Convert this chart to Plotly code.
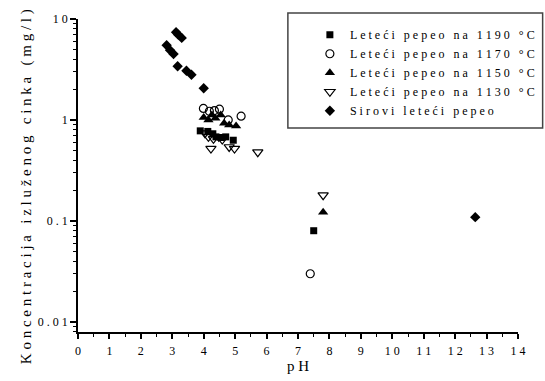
import plotly.graph_objects as go

# ---- data ----
ph_1190 = [3.89, 4.13, 4.29, 4.39, 4.56, 4.70, 4.94, 7.50]
zn_1190 = [0.78, 0.77, 0.73, 0.68, 0.67, 0.68, 0.63, 0.080]

ph_1170 = [3.99, 4.18, 4.34, 4.50, 4.78, 5.19, 7.39]
zn_1170 = [1.30, 1.22, 1.24, 1.28, 1.00, 1.09, 0.030]

ph_1150 = [4.00, 4.15, 4.26, 4.37, 4.54, 4.65, 4.81, 5.03, 7.80]
zn_1150 = [1.06, 1.00, 1.12, 1.04, 1.12, 0.93, 0.89, 0.87, 0.122]

ph_1130 = [4.04, 4.15, 4.23, 4.31, 4.48, 4.59, 4.81, 4.98, 5.72, 7.80]
zn_1130 = [0.74, 0.68, 0.52, 0.65, 0.68, 0.64, 0.54, 0.52, 0.48, 0.18]

ph_raw = [2.82, 2.93, 3.04, 3.12, 3.19, 3.30, 3.17, 3.45, 3.61, 4.00, 12.64]
zn_raw = [5.5, 4.9, 4.5, 7.4, 7.0, 6.5, 3.4, 3.07, 2.8, 2.06, 0.109]

names = ["Leteći pepeo na 1190 °C", "Leteći pepeo na 1170 °C", "Leteći pepeo na 1150 °C",
         "Leteći pepeo na 1130 °C", "Sirovi leteći pepeo"]

x_tick_labels = [str(v) for v in range(0, 15)]
y_tick_labels = ["0.01", "0.1", "1", "10"]
y_minor = [m * 10.0 ** e for e in (-3, -2, -1, 0) for m in range(2, 10)]
x_minor = [v + 0.5 for v in range(0, 14)]

NB = "\u00a0"


def spaced(s, gap=1, wordgap=3):
    words = s.split(" ")
    return (NB * wordgap).join((NB * gap).join(list(w)) for w in words)


FONT = "Liberation Serif"

series = [
    (ph_1190, zn_1190, names[0], "square", 7, 0),
    (ph_1170, zn_1170, names[1], "circle-open", 8, 1.2),
    (ph_1150, zn_1150, names[2], "triangle-up", 9, 0),
    (ph_1130, zn_1130, names[3], "triangle-down-open", 9, 1.2),
    (ph_raw, zn_raw, names[4], "diamond", 8, 0),
]

fig = go.Figure()
for xs, ys, nm, sym, sz, lw in series:
    fig.add_trace(go.Scatter(
        x=xs, y=ys, mode="markers", name=spaced(nm),
        marker=dict(symbol=sym, size=sz, color="black", line=dict(color="black", width=lw)),
    ))

fig.update_layout(
    width=545, height=381,
    margin=dict(l=78, r=27, t=19, b=49, autoexpand=False),
    paper_bgcolor="white", plot_bgcolor="white",
    font=dict(family=FONT, size=12, color="black"),
    showlegend=True,
    legend=dict(x=0.527, y=0.996, xanchor="left", yanchor="top",
                bgcolor="rgba(0,0,0,0)", borderwidth=0,
                font=dict(family=FONT, size=12), tracegroupgap=0,
                itemwidth=30),
    shapes=[dict(type="rect", xref="paper", yref="paper",
                 x0=0.477, x1=1.056, y0=0.652, y1=1.019,
                 line=dict(color="#444", width=1.5), fillcolor="rgba(0,0,0,0)")],
    annotations=[dict(
        text=spaced("Koncentracija izluženog cinka (mg/l)", gap=1, wordgap=3),
        xref="paper", yref="paper", x=-0.118, y=0.463, xanchor="center", yanchor="middle",
        textangle=-90, showarrow=False, font=dict(family=FONT, size=15, color="black"),
    )],
)

fig.update_xaxes(
    range=[0, 14], dtick=1, tick0=0, automargin=False,
    labelalias={t: NB.join(t) for t in x_tick_labels if len(t) > 1},
    showgrid=False, zeroline=False, showline=True, linecolor="black", linewidth=1.5,
    ticks="outside", ticklen=5, tickwidth=1.5, tickcolor="black", ticklabelstandoff=2,
    minor=dict(tickmode="array", tickvals=x_minor, ticks="outside", ticklen=3,
               tickwidth=1.2, tickcolor="black", showgrid=False),
    tickfont=dict(family=FONT, size=12),
    title=dict(text="p" + NB + "H", font=dict(family=FONT, size=15), standoff=2),
)
fig.update_yaxes(
    type="log", range=[-2.1, 1], dtick=1, automargin=False,
    labelalias={t: NB.join(t) for t in y_tick_labels if len(t) > 1},
    showgrid=False, zeroline=False, showline=True, linecolor="black", linewidth=1.5,
    ticks="outside", ticklen=6, tickwidth=1.5, tickcolor="black",
    minor=dict(tickmode="array", tickvals=y_minor, ticks="outside", ticklen=3,
               tickwidth=1.2, tickcolor="black", showgrid=False),
    tickfont=dict(family=FONT, size=12),
)

fig.write_html("out.html")
